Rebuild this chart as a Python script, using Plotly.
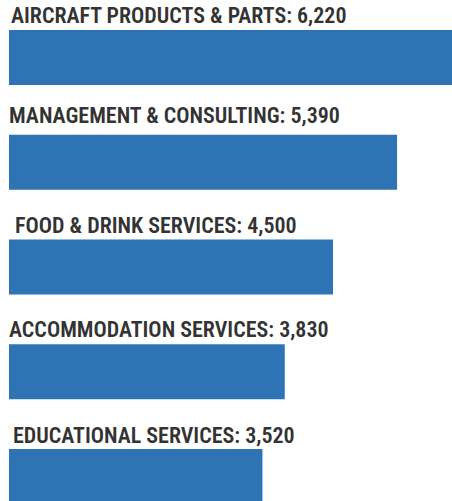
import plotly.graph_objects as go

categories = [
    "AIRCRAFT PRODUCTS & PARTS",
    "MANAGEMENT & CONSULTING",
    "FOOD & DRINK SERVICES",
    "ACCOMMODATION SERVICES",
    "EDUCATIONAL SERVICES",
]
values = [6220, 5390, 4500, 3830, 3520]

# style: small nudges of each label
label_xshift = [0, -2, 4, -2, 2]
label_yshift = [0, 5, 0, 0, -1]

W, H = 452, 501
left = 9                 # bars start at page x = 9
px_per_unit = 0.072
pitch = 104.75
first_center = 57.5
bar_h = 55

positions = list(range(len(categories)))

fig = go.Figure(
    go.Bar(
        x=values,
        y=positions,
        orientation="h",
        marker=dict(color="#2E74B5", line=dict(width=0)),
        width=bar_h / pitch,
        hoverinfo="skip",
    )
)

y_top = -first_center / pitch
y_bot = (H - first_center) / pitch

for i, (c, v) in enumerate(zip(categories, values)):
    fig.add_annotation(
        x=0, y=i - (bar_h / pitch) / 2,
        xref="x", yref="y",
        text=f"{c}: {v:,}",
        showarrow=False,
        xanchor="left", yanchor="bottom",
        xshift=label_xshift[i],
        yshift=label_yshift[i],
        font=dict(family="Roboto Condensed", size=22, color="#333333", weight=600),
    )

fig.update_layout(
    width=W, height=H,
    margin=dict(l=left, r=0, t=0, b=0),
    paper_bgcolor="white", plot_bgcolor="white",
    showlegend=False,
    xaxis=dict(range=[0, (W - left) / px_per_unit], visible=False, fixedrange=True),
    yaxis=dict(range=[y_bot, y_top], visible=False, fixedrange=True),
)

fig.write_html(
    "out.html",
    config={"displayModeBar": False},
    post_script="document.body.style.margin='0';document.documentElement.style.overflow='hidden';document.body.style.overflow='hidden';",
)
